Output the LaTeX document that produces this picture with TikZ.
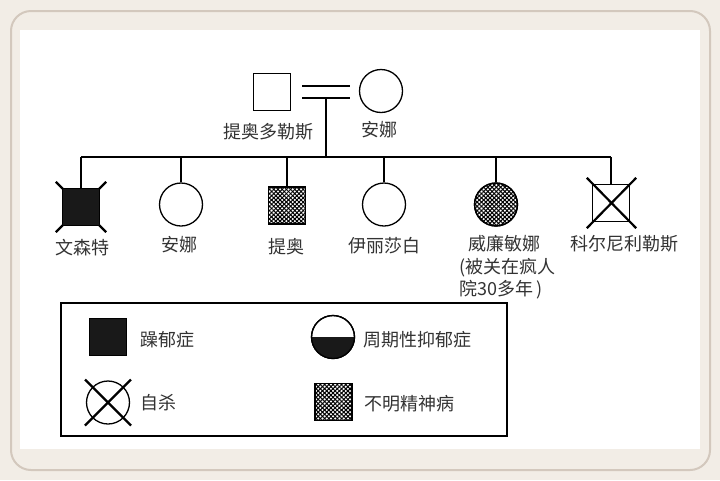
\documentclass[tikz,border=0pt]{standalone}
\usepackage{fontspec}
\newfontfamily\cjk{Noto Sans CJK SC}
\usetikzlibrary{patterns.meta,calc}
\definecolor{bgc}{HTML}{F2EDE6}
\definecolor{edgec}{HTML}{D3C8BD}
\definecolor{txt}{HTML}{333333}
\begin{document}
\begin{tikzpicture}[x=1pt,y=-1pt,
  lbl/.style={font=\cjk\fontsize{18}{21}\selectfont, text=txt, inner sep=0pt},
  sq/.style={draw=black, line width=1.3pt, minimum size=37pt, inner sep=0pt, fill=white},
  circ/.style={draw=black, line width=1.3pt, circle, minimum size=43pt, inner sep=0pt, fill=white},
  hatch/.style={pattern={Lines[angle=45,distance=3pt,line width=1.05pt]},
    postaction={draw=black, line width=1.3pt, pattern={Lines[angle=-45,distance=3pt,line width=1.05pt]}}},
  ln/.style={line width=1.3pt, black},
  xl/.style={line width=2.2pt, black}]
\useasboundingbox (0,0) rectangle (720,480);
\fill[bgc] (0,0) rectangle (720,480);
\draw[edgec, line width=2pt, rounded corners=20pt] (11,11) rectangle (710,470);
\fill[white] (20,30) rectangle (700,449);

% parents
\node[sq] (f) at (272,92) {};
\node[circ] (m) at (381,91) {};
\node[lbl] (fl) at (268,132) {提奥多勒斯};
\node[lbl] (ml) at (379,130) {安娜};
\coordinate (d1a) at (302,86); \coordinate (d1b) at (350,86);
\coordinate (d2a) at (302,98); \coordinate (d2b) at (350,98);
\draw[ln] (d1a) -- (d1b);
\draw[ln] (d2a) -- (d2b);
\coordinate (mid) at (326,98);
\coordinate (barL) at (81,157); \coordinate (barR) at (611,157);
\coordinate (barM) at (326,157);
\draw[ln] (mid) -- (barM);
\draw[ln] (barL) -- (barR);

% children
\node[sq, fill=black!90] (c1) at (81,207) {};
\node[circ] (c2) at (181,204.5) {};
\node[sq, hatch] (c3) at (287,205.5) {};
\node[circ] (c4) at (384,204.5) {};
\node[circ, hatch] (c5) at (496,204.5) {};
\node[sq] (c6) at (611,203) {};
\foreach \c in {c1,c2,c3,c4,c5,c6} \draw[ln] (\c.north) -- (\c.north |- barL);
% Vincent corner marks
\draw[xl] ($(c1.north west)+(-6,-6)$) -- ($(c1.south east)+(6,6)$);
\draw[xl] ($(c1.north east)+(6,-6)$) -- ($(c1.south west)+(-6,6)$);
\node[sq, fill=black!90, draw=black] at (c1) {};
% Cor cross
\draw[xl] ($(c6.north west)+(-5,-6)$) -- ($(c6.south east)+(6,6)$);
\draw[xl] ($(c6.north east)+(6,-6)$) -- ($(c6.south west)+(-5,6)$);

\node[lbl] (l1) at (82,248) {文森特};
\node[lbl] (l2) at (179,245) {安娜};
\node[lbl] (l3) at (286,247) {提奥};
\node[lbl] (l4) at (384,246) {伊丽莎白};
\node[lbl] (l5) at (504,244) {威廉敏娜};
\node[lbl, anchor=west] (l5b) at (459,268) {(被关在疯人};
\node[lbl, anchor=west] (l5c) at (459,290) {院30多年\,)};
\node[lbl] (l6) at (624,244) {科尔尼利勒斯};

% legend
\node[draw=black, line width=1.3pt, minimum width=446pt, minimum height=133pt, inner sep=0pt] (leg) at (284,369.5) {};
\node[sq, fill=black!90] (k1) at (108,337) {};
\node[lbl, anchor=west] (k1l) at (140,340) {躁郁症};
\node[circ] (k2) at (333,337) {};
\begin{scope}
  \clip (310,337) rectangle (356,362);
  \fill[black!90] (k2.center) circle[radius=21.5pt];
\end{scope}
\node[circ, fill=none] at (k2) {};
\node[lbl, anchor=west] (k2l) at (363,340) {周期性抑郁症};
\node[circ] (k3) at (108,402.5) {};
\draw[xl] ($(k3.center)+(-23,-23)$) -- ($(k3.center)+(23,23)$);
\draw[xl] ($(k3.center)+(23,-23)$) -- ($(k3.center)+(-23,23)$);
\node[lbl, anchor=west] (k3l) at (140,403) {自杀};
\node[sq, hatch] (k4) at (333.5,402) {};
\node[lbl, anchor=west] (k4l) at (364,404) {不明精神病};
\end{tikzpicture}
\end{document}
